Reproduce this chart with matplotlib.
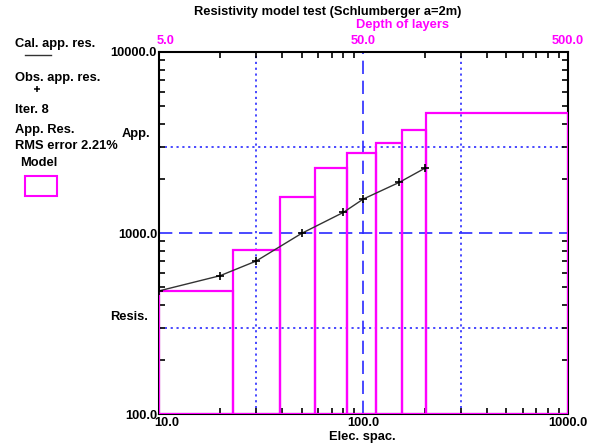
import matplotlib
matplotlib.use("Agg")
import matplotlib.pyplot as plt
import matplotlib.patches as mpatches
import matplotlib.transforms as mtransforms
from matplotlib.lines import Line2D
from matplotlib.ticker import LogLocator, NullFormatter, FixedLocator, FixedFormatter

# ---- data ----
spacing = [10, 20, 30, 50, 80, 100, 150, 200]                 # electrode spacing (m)
obs_rho = [478, 581, 700, 995, 1300, 1540, 1905, 2280]        # observed app. resistivity
cal_rho = [478, 581, 700, 995, 1300, 1540, 1905, 2280]        # calculated app. resistivity
layer_depth = [11.6, 19.5, 29.2, 41.6, 57.7, 77.2, 101.0]     # layer boundary depths (m)
layer_rho = [478, 805, 1574, 2295, 2778, 3130, 3707, 4584]    # layer resistivities
x_ticks = [10, 100, 1000]
x_ticklabels = ["10.0", "100.0", "1000.0"]
y_ticks = [100, 1000, 10000]
y_ticklabels = ["100.0", "1000.0", "10000.0"]
depth_ticks = [5, 50, 500]
depth_ticklabels = ["5.0", "50.0", "500.0"]

W, H = 600, 448
plt.rcParams['font.family'] = ['Liberation Sans', 'DejaVu Sans']
plt.rcParams['font.weight'] = 'bold'
FS = 9.3

fig = plt.figure(figsize=(W / 100, H / 100), dpi=100)
fig.patch.set_facecolor('white')

def fx(x):
    return x / W

def fy(y):
    return 1 - y / H

L, R, T, B = 158.5, 568, 52, 414
ax = fig.add_axes([fx(L), fy(B), (R - L) / W, (B - T) / H])
ax.set_xscale('log')
ax.set_yscale('log')
xmin, xmax, ymin, ymax = 10, 1000, 100, 10000
ax.set_xlim(xmin, xmax)
ax.set_ylim(ymin, ymax)

blue = '#2a2aff'
mag = '#ff00ff'

# grid lines
for xv in [30, 300]:
    ax.axvline(xv, color=blue, lw=1.2, ls=(0, (1.3, 2.2)), zorder=1)
for yv in [300, 3000]:
    ax.axhline(yv, color=blue, lw=1.2, ls=(0, (1.3, 2.2)), zorder=1)
ax.axvline(100, color=blue, lw=1.2, ls=(0, (8, 4)), zorder=1)
ax.axhline(1000, color=blue, lw=1.2, ls=(0, (8, 4)), zorder=1)

# model layers as boxes (spacing = 2 * depth)
edges = [xmin] + [2 * d for d in layer_depth] + [xmax]
for i, rho in enumerate(layer_rho):
    left, right = edges[i], edges[i + 1]
    ax.bar(left, rho - ymin, width=right - left, bottom=ymin, align='edge',
           fill=False, edgecolor=mag, linewidth=1.6, zorder=6)

# curves
ax.plot(spacing, cal_rho, color='#333333', lw=1.0, zorder=7)
ax.plot(spacing, obs_rho, ls='none', marker='+', ms=6, mew=1.2, color='black', zorder=8)

# spines
for s in ax.spines.values():
    s.set_linewidth(1.5)
    s.set_color('black')
    s.set_zorder(5)

# ticks
ax.xaxis.set_major_locator(FixedLocator(x_ticks))
ax.xaxis.set_major_formatter(FixedFormatter(x_ticklabels))
ax.yaxis.set_major_locator(FixedLocator(y_ticks))
ax.yaxis.set_major_formatter(FixedFormatter(y_ticklabels))
ax.xaxis.set_minor_locator(LogLocator(base=10, subs=range(2, 10)))
ax.yaxis.set_minor_locator(LogLocator(base=10, subs=range(2, 10)))
ax.xaxis.set_minor_formatter(NullFormatter())
ax.yaxis.set_minor_formatter(NullFormatter())
ax.tick_params(which='both', direction='in', top=True, right=True, length=4, width=1.2, color='black')
ax.tick_params(axis='x', which='major', length=0, pad=2, labelsize=FS)
ax.tick_params(axis='y', which='major', length=0, pad=1, labelsize=FS)
for lab in ax.get_xticklabels() + ax.get_yticklabels():
    lab.set_fontweight('bold')
xl = ax.get_xticklabels()
xl[0].set_transform(xl[0].get_transform() + mtransforms.ScaledTranslation(8 / 100, 0, fig.dpi_scale_trans))

# top depth axis labels (magenta)
for d, lab in zip(depth_ticks, depth_ticklabels):
    xoff = 7 / 100 if d == depth_ticks[0] else 0
    t = ax.text(2 * d, 1.0, lab, transform=ax.get_xaxis_transform(), ha='center', va='bottom',
                color=mag, fontsize=FS, fontweight='bold')
    t.set_transform(ax.get_xaxis_transform() + mtransforms.ScaledTranslation(xoff, 5 / 100, fig.dpi_scale_trans))

# titles & axis labels
fig.text(fx(328), fy(12), "Resistivity model test (Schlumberger a=2m)", ha='center', va='center',
         fontsize=FS, fontweight='bold')
fig.text(fx(403), fy(25), "Depth of layers", ha='center', va='center', fontsize=FS,
         fontweight='bold', color=mag)
fig.text(fx(362), fy(437), "Elec. spac.", ha='center', va='center', fontsize=FS, fontweight='bold')
fig.text(fx(122), fy(134), "App.", ha='left', va='center', fontsize=FS, fontweight='bold')
fig.text(fx(110), fy(317), "Resis.", ha='left', va='center', fontsize=FS, fontweight='bold')

# left legend block
fig.text(fx(15), fy(44), "Cal. app. res.", ha='left', va='center', fontsize=FS, fontweight='bold')
fig.add_artist(Line2D([fx(25), fx(51)], [fy(55), fy(55)], color='#333333', lw=1.0))
fig.text(fx(15), fy(78), "Obs. app. res.", ha='left', va='center', fontsize=FS, fontweight='bold')
fig.add_artist(Line2D([fx(37)], [fy(89)], marker='+', ms=5, mew=1.1, color='black', ls='none'))
fig.text(fx(15), fy(110), "Iter. 8", ha='left', va='center', fontsize=FS, fontweight='bold')
fig.text(fx(15), fy(130), "App. Res.", ha='left', va='center', fontsize=FS, fontweight='bold')
fig.text(fx(15), fy(146), "RMS error 2.21%", ha='left', va='center', fontsize=FS, fontweight='bold')
fig.text(fx(20), fy(163), "Model", ha='left', va='center', fontsize=FS, fontweight='bold')
fig.add_artist(mpatches.Rectangle((fx(25), fy(196)), (57 - 25) / W, (196 - 176) / H,
                                  transform=fig.transFigure, fill=False, edgecolor=mag, lw=1.5))

fig.savefig("out.png", dpi=100)
